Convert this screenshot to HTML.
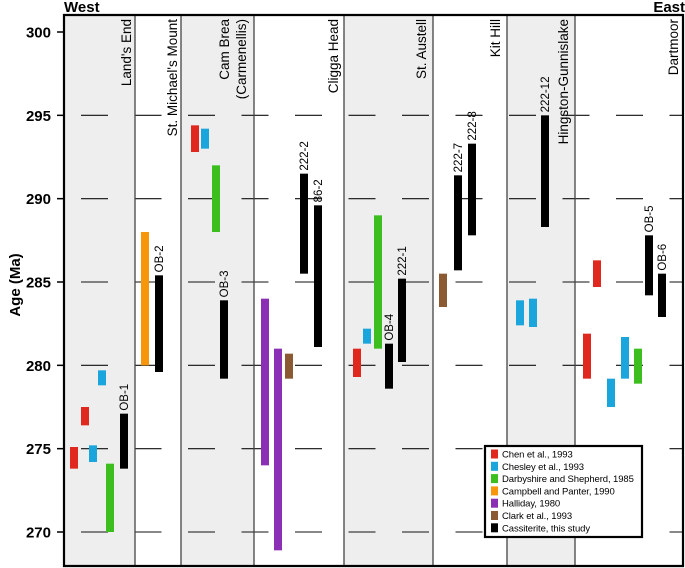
<!DOCTYPE html>
<html><head><meta charset="utf-8">
<style>
html,body{margin:0;padding:0;background:#fff;}
svg{display:block;font-family:"Liberation Sans",sans-serif;}
</style></head>
<body>
<svg id="chart" width="685" height="568" viewBox="0 0 685 568">
  <g id="bg"></g>
  <g id="grid"></g>
  <g id="bars"></g>
  <g id="labels"></g>
</svg>
<script>
const yTicks = [270, 275, 280, 285, 290, 295, 300];
const localities = ["Land's End", "St. Michael's Mount", "Cam Brea", "Cligga Head", "St. Austell", "Kit Hill", "Hingston-Gunnislake", "Dartmoor"];
const localityBounds = [64, 135, 181, 254, 344, 433, 507, 575, 683];
const seriesNames = ["Chen et al., 1993", "Chesley et al., 1993", "Darbyshire and Shepherd, 1985", "Campbell and Panter, 1990", "Halliday, 1980", "Clark et al., 1993", "Cassiterite, this study"];
const seriesColors = ["#e0281e", "#1aa6dc", "#3cbf1e", "#f7960a", "#8b2fb5", "#8c5a32", "#000000"];
const barSeries = [0,0,1,1,2,6, 3,6, 0,1,2,6, 4,4,5,6,6, 0,1,2,6,6, 5,6,6, 1,1,6, 0,0,1,1,2,6,6];
const barMin =   [273.8,276.4,274.2,278.8,270.0,273.8, 280.0,279.6, 292.8,293.0,288.0,279.2, 274.0,268.9,279.2,285.5,281.1, 279.3,281.3,281.0,278.6,280.2, 283.5,285.7,287.8, 282.4,282.3,288.3, 284.7,279.2,277.5,279.2,278.9,284.2,282.9];
const barMax =   [275.1,277.5,275.2,279.7,274.1,277.1, 288.0,285.4, 294.4,294.2,292.0,283.9, 284.0,281.0,280.7,291.5,289.6, 281.0,282.2,289.0,281.3,285.2, 285.5,291.4,293.3, 283.9,284.0,295.0, 286.3,281.9,279.2,281.7,281.0,287.8,285.5];
const barLabels = ["","","","","","OB-1", "","OB-2", "","","","OB-3", "","","","222-2","86-2", "","","","OB-4","222-1", "","222-7","222-8", "","","222-12", "","","","","","OB-5","OB-6"];
const barX =     [70,81,89,98,106,120, 141,155, 191,201,212,220, 261,274,285,300,314, 353,363,374,385,398, 439,454,468, 516,529,541, 593,583,607,621,634,645,658];

const NS = "http://www.w3.org/2000/svg";
function el(tag, attrs, parent){const e=document.createElementNS(NS,tag);for(const k in attrs)e.setAttribute(k,attrs[k]);parent.appendChild(e);return e;}
const yScale = v => 532 + (270 - v) * (500/30);
const TOP = 15, BOT = 566, LEFT = 64, RIGHT = 683;

const bg = document.getElementById('bg');
for (let i = 0; i < localities.length; i++) {
  const r = el('rect', {x: localityBounds[i], y: TOP, width: localityBounds[i+1]-localityBounds[i], height: BOT-TOP, fill: i%2===0 ? '#eeeeee' : '#ffffff'}, bg);
  
  
}
const grid = document.getElementById('grid');
yTicks.forEach(t => {
  const y = yScale(t);
  if (t !== 300) {
    const g = el('line', {x1: 81, x2: RIGHT, y1: y, y2: y, stroke: '#111', 'stroke-width': 1.1, 'stroke-dasharray': '27 26.5'}, grid);
    
    
  }
  const tk = el('line', {x1: 57, x2: LEFT, y1: y, y2: y, stroke: '#000', 'stroke-width': 1.5}, grid);
  
  
  const tl = el('text', {x: 51, y: y + 5.5, 'text-anchor': 'end', 'font-size': 15, 'font-weight': 'bold'}, grid);
  tl.textContent = t;
  
  
});
for (let i = 1; i < localityBounds.length - 1; i++) {
  const s = el('line', {x1: localityBounds[i], x2: localityBounds[i], y1: TOP, y2: BOT, stroke: '#444', 'stroke-width': 1.3}, grid);
  
  
}
const frame = el('path', {d: `M${LEFT},${BOT} L${LEFT},${TOP} L${RIGHT},${TOP} L${RIGHT},${BOT} Z`, fill: 'none', stroke: '#000', 'stroke-width': 2.2}, grid);



const bars = document.getElementById('bars');
for (let i = 0; i < barSeries.length; i++) {
  const s = barSeries[i];
  const w = 8;
  const y1 = yScale(barMax[i]), y2 = yScale(barMin[i]);
  const r = el('rect', {x: barX[i], y: y1, width: w, height: y2 - y1, fill: seriesColors[s]}, bars);
  
  
  if (barLabels[i]) {
    const cx = barX[i] + w/2 + 4, ty = y1 - 3;
    const t = el('text', {x: cx, y: ty, transform: `rotate(-90 ${cx} ${ty})`, 'font-size': 11.5}, bars);
    t.textContent = barLabels[i];
    
    
  }
}

const labels = document.getElementById('labels');
const locLabelX = [131, 177, 229, 338, 426, 500, 568, 678];
localities.forEach((n, i) => {
  const x = locLabelX[i], y = 19;
  const t = el('text', {x: x, y: y, transform: `rotate(-90 ${x} ${y})`, 'text-anchor': 'end', 'font-size': 13.5}, labels);
  t.textContent = n;
  
  
});
{
  const x = 246, y = 19;
  const t = el('text', {x: x, y: y, transform: `rotate(-90 ${x} ${y})`, 'text-anchor': 'end', 'font-size': 13.5}, labels);
  t.textContent = '(Carmenellis)';
  
  
}
const west = el('text', {x: 64, y: 12, 'font-size': 15, 'font-weight': 'bold'}, labels);
west.textContent = 'West';


const east = el('text', {x: 685, y: 12, 'text-anchor': 'end', 'font-size': 15, 'font-weight': 'bold'}, labels);
east.textContent = 'East';


const yt = el('text', {x: 20, y: 285, transform: 'rotate(-90 20 285)', 'text-anchor': 'middle', 'font-size': 15, 'font-weight': 'bold'}, labels);
yt.textContent = 'Age (Ma)';



const lg = el('g', {}, labels);


el('rect', {x: 485, y: 446, width: 157, height: 91, fill: '#fff', stroke: '#000', 'stroke-width': 2.2}, lg);
seriesNames.forEach((n, i) => {
  const cy = 454 + i * 12.3;
  const sw = el('rect', {x: 491, y: cy - 4.5, width: 7, height: 9, fill: seriesColors[i]}, lg);
  
  
  const t = el('text', {x: 502, y: cy + 3.5, 'font-size': 9.5, 'letter-spacing': -0.1}, lg);
  t.textContent = n;
  
  
});
</script>
</body></html>
